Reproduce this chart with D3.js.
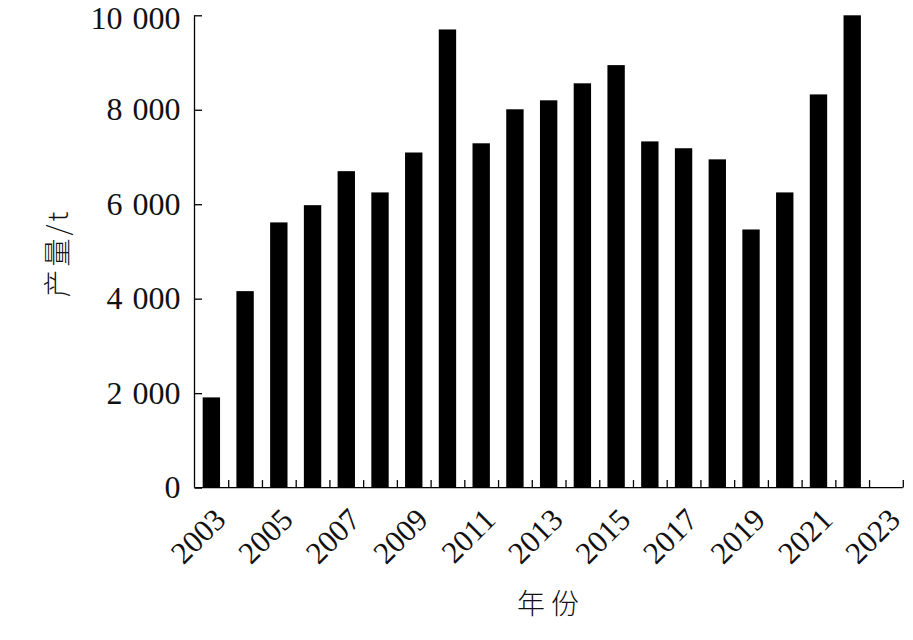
<!DOCTYPE html>
<html>
<head>
<meta charset="utf-8">
<script src="https://cdn.jsdelivr.net/npm/d3@7"></script>
<style>
  html, body { margin: 0; padding: 0; background: #fff; }
  svg { display: block; }
</style>
</head>
<body>
<svg id="chart" width="913" height="640"></svg>
<script>
// ---- data ----
const years = [2003, 2004, 2005, 2006, 2007, 2008, 2009, 2010, 2011, 2012, 2013,
               2014, 2015, 2016, 2017, 2018, 2019, 2020, 2021, 2022, 2023];
const production = [1910, 4160, 5615, 5980, 6700, 6250, 7095, 9700, 7290, 8010, 8200,
                    8560, 8945, 7330, 7185, 6950, 5465, 6250, 8325, 10000];
const yTicks = [0, 2000, 4000, 6000, 8000, 10000];
const xLabelYears = [2003, 2005, 2007, 2009, 2011, 2013, 2015, 2017, 2019, 2021, 2023];
const xTitle = "年份";
const yTitle = "产量/t";

(function () {
// ---- layout ----
const svg = d3.select("#chart");
const mLeft = 194.5, mRight = 902.8, mTop = 15.3, mBottom = 487.6;
const serif = "'Liberation Serif', 'Times New Roman', serif";
const cjk = "'Noto Sans CJK SC', sans-serif";

const x = d3.scaleBand()
  .domain(years)
  .range([mLeft, mRight])
  .paddingInner(0.485)
  .paddingOuter(0.2425);
const y = d3.scaleLinear().domain([0, 10000]).range([mBottom, mTop]);

const step = x.step();
const bandStart = d => x(d) - x.paddingOuter() * step;

// bars
svg.append("g")
  .selectAll("rect")
  .data(production)
  .join("rect")
  .attr("x", (d, i) => x(years[i]))
  .attr("width", x.bandwidth())
  .attr("y", d => y(d))
  .attr("height", d => y(0) - y(d))
  .attr("fill", "#000");

// y axis
const fmt = v => d3.format(",")(v).replace(/,/g, " ");
const yAxis = svg.append("g").attr("transform", `translate(${mLeft},0)`)
  .call(d3.axisRight(y).tickValues(yTicks).tickSize(7.5).tickFormat(""));
yAxis.select(".domain").attr("d", `M0,${mTop}V${mBottom}`);
yAxis.selectAll("line, path").attr("stroke", "#000").attr("stroke-width", 1.3);

svg.append("g").selectAll("text")
  .data(yTicks)
  .join("text")
  .attr("x", mLeft - 14)
  .attr("y", d => y(d) + (d === 10000 ? 3 : 0))
  .attr("dy", "0.33em")
  .attr("text-anchor", "end")
  .attr("font-family", serif)
  .attr("font-size", 32)
  .attr("word-spacing", 2)
  .attr("fill", "#111")
  .text(fmt);

// x axis: ticks at band boundaries
const boundaries = years.map(d => bandStart(d) + step);
const xAxisScale = d3.scaleLinear().domain([mLeft, mRight]).range([mLeft, mRight]);
const xAxis = svg.append("g").attr("transform", `translate(0,${mBottom})`)
  .call(d3.axisTop(xAxisScale).tickValues(boundaries).tickSize(7.5).tickFormat("").tickSizeOuter(0));
xAxis.select(".domain").attr("d", `M${mLeft},0H${mRight}`);
xAxis.selectAll("line, path").attr("stroke", "#000").attr("stroke-width", 1.3);

svg.append("g").selectAll("text")
  .data(xLabelYears)
  .join("text")
  .attr("transform", d => `translate(${x(d) + x.bandwidth() / 2 + 16},${mBottom + 34}) rotate(-45)`)
  .attr("text-anchor", "end")
  .attr("font-family", serif)
  .attr("font-size", 31)
  .attr("fill", "#111")
  .text(d => d);

// titles
svg.append("text")
  .attr("transform", `translate(56,253) rotate(-90)`)
  .attr("text-anchor", "middle")
  .attr("dominant-baseline", "central")
  .attr("font-family", cjk)
  .attr("font-weight", 300)
  .attr("font-size", 28)
  .attr("letter-spacing", 3)
  .attr("fill", "#111")
  .text(yTitle);

svg.append("text")
  .attr("x", 551)
  .attr("y", 602)
  .attr("text-anchor", "middle")
  .attr("dominant-baseline", "central")
  .attr("font-family", cjk)
  .attr("font-weight", 300)
  .attr("font-size", 28)
  .attr("letter-spacing", 6)
  .attr("fill", "#111")
  .text(xTitle);
})();
</script>
</body>
</html>
